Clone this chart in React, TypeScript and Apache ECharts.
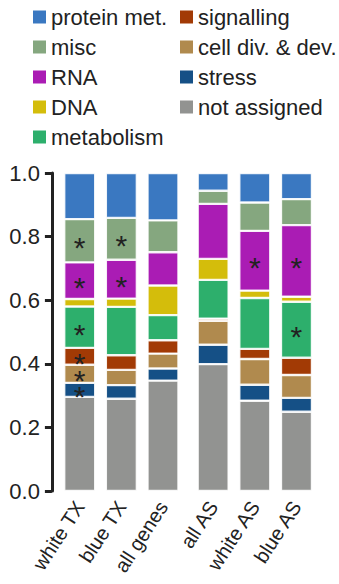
import React, { useEffect, useRef } from "react";
import * as echarts from "echarts";

const groupA = ["white TX", "blue TX", "all genes"];
const groupB = ["all AS", "white AS", "blue AS"];

// stacking order, bottom to top
const seriesNames = [
  "not assigned",
  "stress",
  "cell div. & dev.",
  "signalling",
  "metabolism",
  "DNA",
  "RNA",
  "misc",
  "protein met.",
];
const seriesColors = [
  "#929391",
  "#155086",
  "#b08a4e",
  "#a23a05",
  "#2daf6c",
  "#d4bd0b",
  "#aa1cb4",
  "#85a77f",
  "#3a78c1",
];

// values for [white TX, blue TX, all genes, all AS, white AS, blue AS]
const notAssigned = [0.296, 0.29, 0.347, 0.399, 0.284, 0.249];
const stress = [0.044, 0.043, 0.038, 0.061, 0.05, 0.044];
const cellDiv = [0.057, 0.048, 0.047, 0.075, 0.081, 0.072];
const signalling = [0.053, 0.046, 0.042, 0.007, 0.032, 0.054];
const metabolism = [0.13, 0.152, 0.079, 0.122, 0.16, 0.176];
const dna = [0.024, 0.026, 0.093, 0.066, 0.023, 0.016];
const rna = [0.115, 0.122, 0.105, 0.173, 0.188, 0.225];
const misc = [0.136, 0.132, 0.1, 0.041, 0.089, 0.082];
const protein = [0.145, 0.141, 0.149, 0.056, 0.093, 0.082];

// significance marks (asterisks)
const sigNotAssigned = [0, 0, 0, 0, 0, 0];
const sigStress = [1, 0, 0, 0, 0, 0];
const sigCellDiv = [1, 0, 0, 0, 0, 0];
const sigSignalling = [1, 0, 0, 0, 0, 0];
const sigMetabolism = [1, 0, 0, 0, 0, 1];
const sigDna = [0, 0, 0, 0, 0, 0];
const sigRna = [1, 1, 0, 0, 1, 1];
const sigMisc = [1, 1, 0, 0, 0, 0];
const sigProtein = [0, 0, 0, 0, 0, 0];

const yTicks = [0, 0.2, 0.4, 0.6, 0.8, 1.0];

const legendLeft = ["protein met.", "misc", "RNA", "DNA", "metabolism"];
const legendRight = ["signalling", "cell div. & dev.", "stress", "not assigned"];

const FONT = "Liberation Sans, Arial, Helvetica, sans-serif";
const TEXT = "#222222";

export default function App() {
  const ref = useRef<HTMLDivElement>(null);
  useEffect(() => {
    document.body.style.margin = "0";
    if (!ref.current) return;
    const chart = echarts.init(ref.current, undefined, { renderer: "svg" });
    const values = [notAssigned, stress, cellDiv, signalling, metabolism, dna, rna, misc, protein];
    const sigs = [sigNotAssigned, sigStress, sigCellDiv, sigSignalling, sigMetabolism, sigDna, sigRna, sigMisc, sigProtein];

    const series: any[] = [];
    [0, 1].forEach((g) => {
      seriesNames.forEach((name, i) => {
        const vals = values[i].slice(g * 3, g * 3 + 3);
        const sg = sigs[i].slice(g * 3, g * 3 + 3);
        series.push({
          name,
          type: "bar",
          stack: "s" + g,
          xAxisIndex: g,
          yAxisIndex: g,
          barWidth: 31,
          itemStyle: {
            color: seriesColors[i],
            borderColor: "rgba(255,255,255,0.85)",
            borderWidth: 1.2,
          },
          data: vals.map((v, k) => ({
            value: v,
            label: {
              show: sg[k] === 1,
              formatter: "*",
              position: "inside",
              fontSize: 30,
              lineHeight: 12,
              fontFamily: FONT,
              color: TEXT,
              offset: [0, 7],
            },
          })),
        });
      });
    });

    const legendCommon = {
      orient: "vertical",
      top: 6,
      padding: 0,
      itemWidth: 13,
      itemHeight: 13,
      itemGap: 8,
      icon: "rect",
      selectedMode: false,
      itemStyle: { borderWidth: 0 },
      textStyle: { fontSize: 22, lineHeight: 22, color: TEXT, fontFamily: FONT },
    };

    const xAxisCommon = {
      type: "category",
      axisLine: { show: false },
      axisTick: { show: false },
      axisLabel: {
        interval: 0,
        rotate: 57,
        fontSize: 20,
        color: TEXT,
        fontFamily: FONT,
        margin: 12,
      },
    };

    chart.setOption({
      animation: false,
      legend: [
        { ...legendCommon, left: 33, data: legendLeft },
        { ...legendCommon, left: 180, data: legendRight },
      ],
      grid: [
        { left: 58.9, width: 124.9, top: 173, height: 318 },
        { left: 192.3, width: 125, top: 173, height: 318 },
      ],
      xAxis: [
        { ...xAxisCommon, gridIndex: 0, data: groupA },
        { ...xAxisCommon, gridIndex: 1, data: groupB },
      ],
      yAxis: [
        {
          type: "value",
          gridIndex: 0,
          min: yTicks[0],
          max: yTicks[yTicks.length - 1],
          interval: 0.2,
          offset: 7,
          axisLine: { show: true, lineStyle: { color: TEXT, width: 3 } },
          axisTick: { show: true, length: 7, lineStyle: { color: TEXT, width: 3 } },
          splitLine: { show: false },
          axisLabel: {
            formatter: (v: number) => v.toFixed(1),
            fontSize: 22,
            color: TEXT,
            fontFamily: FONT,
            margin: 12,
          },
        },
        {
          type: "value",
          gridIndex: 1,
          min: 0,
          max: 1,
          interval: 0.2,
          show: false,
          splitLine: { show: false },
        },
      ],
      series,
    });
    return () => chart.dispose();
  }, []);
  return <div ref={ref} style={{ width: 339, height: 584 }} />;
}
